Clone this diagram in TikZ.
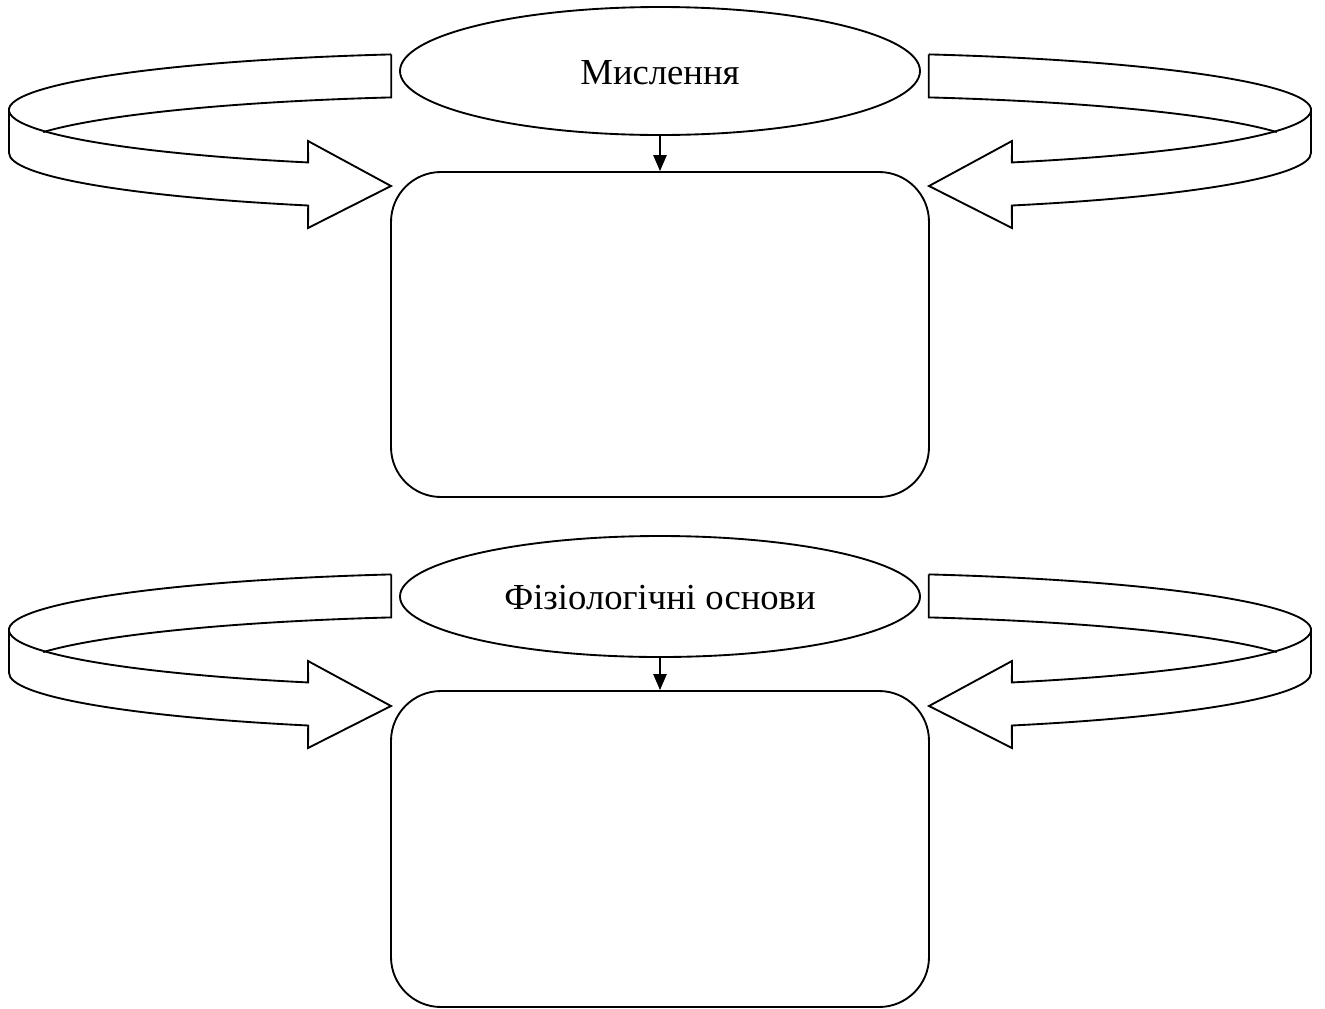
\documentclass[tikz,border=0pt]{standalone}
\usepackage{fontspec}
\setmainfont{Liberation Serif}
\usetikzlibrary{shapes.geometric,arrows.meta}
\newcommand{\ribbonshape}{%
  \draw[ribbon] (391.2,-54.4) arc[start angle=102.8, end angle=247, x radius=491, y radius=57]
     -- (308,-141) -- (391,-186) -- (308,-228) -- (308.2,-205.5)
     arc[start angle=247, end angle=180, x radius=491, y radius=57] -- (9,-110);
  \draw[ribbon] (391.2,-54.4) -- (391.2,-97.4)
     arc[start angle=102.8, end angle=158.5, x radius=491, y radius=57];
}
\begin{document}
\begin{tikzpicture}[x=0.75pt,y=0.75pt,line width=1.4pt,
  bubble/.style={ellipse, draw, minimum width=390pt, inner sep=0pt,
    font=\fontsize{27.5}{32}\selectfont, text height=20pt, text depth=0pt},
  panel/.style={draw, rounded corners=37.5pt, minimum width=403.5pt, inner sep=0pt},
  link/.style={-{Triangle[length=12pt,width=10pt]}, line width=1.2pt},
  ribbon/.style={line width=1.4pt, line join=miter}]
\useasboundingbox (0,0) rectangle (1325,-1008);
\fill[white] (0,0) rectangle (1325,-1008);

\ribbonshape
\begin{scope}[shift={(1320,0)},xscale=-1] \ribbonshape \end{scope}
\begin{scope}[shift={(0,-520)}] \ribbonshape \end{scope}
\begin{scope}[shift={(1320,-520)},xscale=-1] \ribbonshape \end{scope}

\node[bubble, minimum height=96pt] (e1) at (660,-71) {Мислення};
\node[panel, minimum height=243.75pt] (b1) at (660,-334.5) {};
\draw[link] (e1) -- (b1);

\node[bubble, minimum height=90.75pt] (e2) at (660,-596.5) {Фізіологічні основи};
\node[panel, minimum height=237pt] (b2) at (660,-849) {};
\draw[link] (e2) -- (b2);
\end{tikzpicture}
\end{document}
